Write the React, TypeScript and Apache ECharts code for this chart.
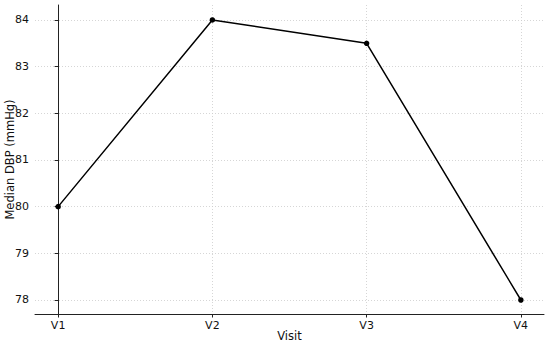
import React, { useEffect, useRef } from "react";
import * as echarts from "echarts";

const categories = ["V1", "V2", "V3", "V4"];
const medianDBP = [80, 84, 83.5, 78];
const yTicks = [78, 79, 80, 81, 82, 83, 84];

export default function App() {
  const ref = useRef<HTMLDivElement>(null);
  useEffect(() => {
    if (!ref.current) return;
    const chart = echarts.init(ref.current, null, { renderer: "svg" });
    const font = "DejaVu Sans";
    chart.setOption({
      animation: false,
      backgroundColor: "#ffffff",
      grid: { left: 35, right: 6, top: 5, bottom: 29, containLabel: false, outerBoundsMode: "none" },
      xAxis: {
        type: "value",
        min: -0.15,
        max: 3.15,
        name: "Visit",
        nameLocation: "middle",
        nameGap: 16,
        nameMoveOverlap: false,
        nameTextStyle: { fontFamily: font, fontSize: 11.5, color: "#111" },
        axisLine: { show: true, lineStyle: { color: "#222", width: 1 } },
        axisTick: { show: true, length: 3.5, lineStyle: { color: "#222" }, customValues: [0, 1, 2, 3] },
        axisLabel: {
          customValues: [0, 1, 2, 3],
          fontFamily: font,
          fontSize: 11,
          color: "#111",
          margin: 6,
          formatter: (v: number) => categories[Math.round(v)] ?? "",
        },
        splitLine: { show: true, lineStyle: { color: "#cccccc", type: [1, 2], width: 0.8 } },
      },
      yAxis: {
        type: "value",
        min: 77.7,
        max: 84.32,
        name: "Median DBP (mmHg)",
        nameLocation: "middle",
        nameGap: 19,
        nameMoveOverlap: false,
        nameRotate: 90,
        nameTextStyle: { fontFamily: font, fontSize: 11.5, color: "#111" },
        axisLine: { show: true, lineStyle: { color: "#222", width: 1 } },
        axisTick: { show: true, length: 3.5, lineStyle: { color: "#222" }, customValues: yTicks },
        axisLabel: {
          customValues: yTicks,
          fontFamily: font,
          fontSize: 11,
          color: "#111",
          margin: 6,
          formatter: (v: number) => String(v),
        },
        splitLine: { show: true, lineStyle: { color: "#cccccc", type: [1, 2], width: 0.8 } },
      },
      series: [
        {
          type: "line",
          data: medianDBP.map((v, i) => [i, v]),
          symbol: "circle",
          symbolSize: 5.5,
          itemStyle: { color: "#000" },
          lineStyle: { color: "#000", width: 1.5 },
        },
      ],
    });
    return () => chart.dispose();
  }, []);
  return <div ref={ref} style={{ width: 550, height: 343, position: "absolute", left: 0, top: 0 }} />;
}
